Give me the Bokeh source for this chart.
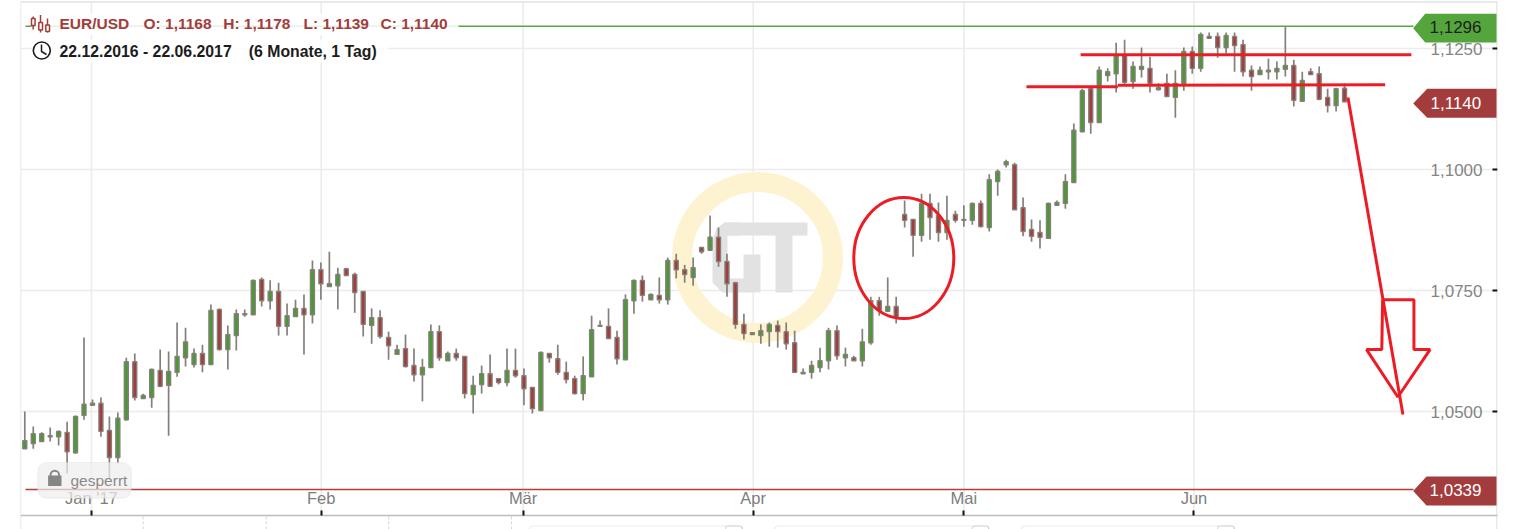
from bokeh.plotting import figure
from bokeh.models import Range1d, LinearAxis, FixedTicker, BoxAnnotation
from bokeh.core.properties import value
from bokeh.embed import file_html
from bokeh.resources import INLINE

# EUR/USD daily candles in 1/10000 units (10423 = 1,0423)
opens = [10423,10434,10438,10448,10448,10457,10415,10492,10513,10517,10461,10405,10483,10603,10527,10529,10585,10554,10581,10611,
10597,10620,10597,10711,10628,10657,10700,10700,10773,10729,10748,10676,10696,10713,10700,10793,10758,10760,10795,10783,
10748,10678,10694,10653,10618,10630,10595,10576,10591,10665,10605,10620,10614,10535,10556,10578,10568,10560,10585,10574,
10550,10502,10620,10609,10581,10568,10537,10572,10676,10676,10653,10607,10729,10771,10731,10740,10731,10812,10793,10777,
10839,10833,10860,10810,10766,10680,10659,10657,10665,10678,10665,10642,10578,10581,10591,10605,10667,10611,10611,10605,
10642,10729,10707,10717,10907,10897,10864,10930,10905,10870,10907,10895,10895,10930,10880,10975,11010,11010,10921,10876,
10870,10858,10926,10930,10973,11078,11167,11097,11194,11198,11236,11182,11207,11209,11165,11178,11149,11178,11244,11209,
11275,11275,11252,11275,11258,11205,11196,11202,11202,11207,11215,11141,11202,11198,11149,11132,11168]
closes = [10440,10454,10454,10450,10459,10417,10490,10515,10517,10459,10405,10486,10603,10529,10533,10587,10552,10583,10614,10644,
10620,10597,10709,10628,10659,10702,10702,10771,10729,10748,10676,10698,10713,10700,10793,10764,10764,10783,10781,10746,
10680,10694,10655,10636,10628,10593,10576,10591,10665,10611,10620,10611,10537,10554,10578,10552,10560,10585,10574,10547,
10506,10622,10611,10581,10566,10537,10574,10669,10678,10651,10609,10731,10771,10740,10742,10731,10812,10793,10783,10797,
10830,10860,10810,10764,10680,10661,10663,10667,10680,10665,10640,10581,10581,10595,10605,10667,10615,10618,10605,10644,
10729,10709,10717,10694,10895,10864,10930,10901,10870,10895,10895,10897,10930,10882,10979,10996,11016,10917,10872,10862,
10860,10930,10932,10975,11081,11163,11097,11205,11202,11236,11180,11213,11213,11178,11169,11151,11178,11244,11209,11279,
11271,11252,11277,11256,11202,11192,11205,11205,11209,11215,11143,11184,11196,11145,11132,11167,11140]
highs = [10500,10469,10457,10467,10461,10479,10492,10653,10525,10529,10490,10498,10611,10620,10537,10589,10628,10624,10684,10673,
10630,10638,10721,10713,10678,10711,10711,10773,10777,10771,10766,10723,10731,10742,10812,10808,10830,10797,10797,10787,
10748,10713,10709,10665,10638,10659,10630,10609,10680,10678,10624,10630,10614,10574,10595,10618,10568,10630,10630,10589,
10550,10624,10620,10638,10603,10574,10614,10698,10688,10713,10667,10742,10773,10781,10744,10777,10818,10826,10803,10818,
10839,10905,10880,10826,10768,10702,10663,10680,10684,10688,10684,10667,10589,10605,10632,10673,10678,10632,10615,10671,
10737,10737,10777,10737,10936,10897,10950,10950,10932,10946,10915,10926,10932,10936,10990,11000,11020,11014,10942,10897,
10895,10932,10936,10990,11095,11167,11169,11213,11209,11262,11268,11223,11252,11233,11178,11198,11205,11252,11254,11283,
11283,11283,11283,11283,11268,11215,11213,11229,11223,11296,11227,11202,11209,11213,11167,11169,11178]
lows = [10423,10423,10438,10438,10430,10372,10413,10483,10513,10448,10361,10393,10481,10523,10527,10508,10550,10450,10572,10593,
10591,10581,10597,10626,10587,10626,10696,10700,10717,10711,10657,10657,10696,10618,10682,10731,10758,10711,10781,10704,
10655,10640,10651,10607,10618,10591,10562,10521,10591,10605,10605,10605,10527,10496,10537,10552,10556,10552,10570,10513,
10496,10502,10601,10576,10558,10535,10523,10572,10676,10651,10597,10607,10702,10727,10731,10723,10721,10775,10766,10760,
10826,10833,10799,10737,10671,10649,10659,10640,10634,10632,10628,10581,10578,10568,10581,10587,10607,10593,10605,10593,
10638,10698,10707,10682,10880,10820,10851,10855,10851,10855,10890,10882,10886,10880,10872,10946,11004,10917,10862,10851,
10837,10858,10926,10919,10973,11078,11074,11097,11182,11159,11173,11167,11190,11159,11163,11151,11107,11163,11198,11202,
11271,11231,11240,11202,11192,11163,11196,11186,11186,11192,11130,11141,11196,11143,11118,11120,11139]

price_ticks = [1.05, 1.075, 1.10, 1.125]
price_labels = ["1,0500", "1,0750", "1,1000", "1,1250"]
month_ticks = [7.88, 35.04, 58.9, 86.1, 111.0, 138.2]
month_labels = ["Jan '17", "Feb", "Mär", "Apr", "Mai", "Jun"]
period_high, period_low, last_close = 1.1296, 1.0339, 1.1140

# hand-drawn analysis marks, in (candle index, price)
resist_x = [124.8, 163.9]; resist_y = [1.1237, 1.1237]
support1_x = [118.4, 129.2]; support1_y = [1.1171, 1.1171]
support2_x = [129.2, 160.8]; support2_y = [1.1174, 1.1175]
trend_x = [156.4, 162.9]; trend_y = [1.1149, 1.0494]
arrow_x = [160.5, 164.2, 164.2, 166.1, 162.3, 158.6, 160.4, 160.5]
arrow_y = [1.0731, 1.0731, 1.0628, 1.0628, 1.0530, 1.0628, 1.0628, 1.0731]

GREEN, RED = "#5aa545", "#a33c3c"
WICK = "#857f7a"
FONT = value("Liberation Sans")

def X(px): return (px - 24.3) / 8.46
def Y(py): return 1.13492 - 0.0002066 * py

p = figure(width=1519, height=529, output_backend="svg", toolbar_location=None,
           x_range=Range1d(X(20), X(1497)), y_range=Range1d(Y(529), Y(0)),
           x_axis_location=None, y_axis_location=None,
           min_border_left=20, min_border_right=22, min_border_top=0, min_border_bottom=0)
p.outline_line_color = None
p.grid.visible = False
p.background_fill_color = "white"

# grid and frame
GRID = "#ececec"
p.segment(month_ticks, [Y(2)] * 6, month_ticks, [Y(515)] * 6, line_color=GRID, line_width=1.6, level="underlay")
p.segment([X(20)] * 4, price_ticks, [X(1497)] * 4, price_ticks, line_color=GRID, line_width=1.6, level="underlay")
p.segment([X(20), X(1496.5), X(20)], [Y(1), Y(1), Y(1.5)], [X(20), X(1496.5), X(1497)], [Y(529), Y(529), Y(1.5)],
          line_color="#e2e2e2", line_width=1.5, level="underlay")
dash = [142.7, 265.7, 388.2, 511.0]
p.segment([X(d) for d in dash], [Y(516)] * 4, [X(d) for d in dash], [Y(529)] * 4,
          line_color="#d5d5d5", line_width=1, line_dash="3 2", level="underlay")

# watermark: ring + GT logo
p.scatter([X(757)], [Y(257)], marker="circle", size=151, fill_color=None, line_color="#fdf3d0", line_width=20)
gx = [712, 716, 724, 740, 740, 727, 727, 743, 743, 760, 760, 722, 712]
gy = [240, 228, 222, 222, 235, 235, 278, 278, 254, 254, 292, 292, 282]
p.patch([X(v) for v in gx], [Y(v) for v in gy], fill_color="#e2e2e2", line_color=None)
tx = [724, 807, 807, 792, 792, 775, 775, 724]
ty = [222, 222, 235, 235, 292, 292, 235, 235]
p.patch([X(v) for v in tx], [Y(v) for v in ty], fill_color="#e2e2e2", line_color=None)

# period high / low lines
p.line([X(25), X(1413)], [period_high] * 2, line_color=GREEN, line_width=1.6)
p.line([X(25), X(1413)], [period_low] * 2, line_color="#b83a3a", line_width=1.6)

# candles
n = len(opens)
idx = list(range(n))
o = [v / 10000 for v in opens]; c = [v / 10000 for v in closes]
h = [v / 10000 for v in highs]; l = [v / 10000 for v in lows]
p.segment(idx, h, idx, l, line_color=WICK, line_width=1.7)
colors = [RED if c[i] < o[i] else "#4a9a33" for i in idx]
p.vbar(idx, 0.47, [max(a, b) for a, b in zip(o, c)], [min(a, b) for a, b in zip(o, c)],
       fill_color=colors, line_color=WICK, line_width=1.4)

# axes
ov = dict(zip(price_ticks, price_labels))
yaxis = LinearAxis(fixed_location=X(1425), ticker=FixedTicker(ticks=price_ticks), major_label_overrides=ov,
                   axis_line_color=None, major_tick_line_color=None, minor_tick_line_color=None,
                   major_tick_in=0, major_tick_out=0, major_label_standoff=5,
                   major_label_text_color="#858585", major_label_text_font="Liberation Sans",
                   major_label_text_font_size="17px")
p.add_layout(yaxis, "right")
ytick = LinearAxis(fixed_location=X(1496.5), ticker=FixedTicker(ticks=price_ticks),
                   major_label_overrides={v: "" for v in price_ticks},
                   axis_line_color=None, major_tick_line_color="#111111", major_tick_line_width=2,
                   minor_tick_line_color=None, major_tick_in=5, major_tick_out=0)
p.add_layout(ytick, "right")
mv = dict(zip(month_ticks, month_labels))
xaxis = LinearAxis(fixed_location=Y(488.5), ticker=FixedTicker(ticks=month_ticks), major_label_overrides=mv,
                   axis_line_color=None, major_tick_line_color=None, minor_tick_line_color=None,
                   major_tick_in=0, major_tick_out=0, major_label_standoff=0,
                   major_label_text_color="#7d7d7d", major_label_text_font="Liberation Sans",
                   major_label_text_font_size="16.5px")
p.add_layout(xaxis, "below")
xtick = LinearAxis(fixed_location=Y(515.3), ticker=FixedTicker(ticks=month_ticks),
                   major_label_overrides={v: "" for v in month_ticks},
                   axis_line_color="#bdbdbd", axis_line_width=1.5,
                   major_tick_line_color="#111111", major_tick_line_width=2,
                   minor_tick_line_color=None, major_tick_in=5, major_tick_out=0)
p.add_layout(xtick, "below")

# range selector boxes at the bottom edge
for a, b in [(528.6, 742), (774, 988.5), (1020.7, 1234)]:
    p.add_layout(BoxAnnotation(left=X(a), right=X(b), top=Y(525.5), bottom=Y(545), fill_color="white",
                               line_color="#bdbdbd", line_width=1.2, border_radius=4))
    p.add_layout(BoxAnnotation(left=X(b - 17), right=X(b), top=Y(525.5), bottom=Y(545), fill_color=None,
                               line_color="#8c8c8c", line_width=1.2, border_radius=3))

# price tags
def tag(py_top, py_bot, py_tip, x_shoulder, color):
    xs = [X(1412.7), X(x_shoulder), X(1496), X(1496), X(x_shoulder)]
    ys = [Y(py_tip), Y(py_top), Y(py_top), Y(py_bot), Y(py_bot)]
    p.patch(xs, ys, fill_color=color, line_color=None, level="overlay")
tag(13.3, 42, 27.7, 1424.7, "#53a53c")
tag(88.3, 117.3, 103, 1426.7, RED)
tag(476, 505, 490.5, 1426, RED)
def vals(xs, ys, t, color, size, style="normal", level="overlay"):
    p.text(xs, ys, text=t, text_color=color, text_font=FONT, text_font_size=value(size),
           text_font_style=value(style), text_baseline="middle", text_align="left", level=level)
vals([X(1429)], [Y(26.5)], ["1,1296"], "#1e1e1e", "17px")
vals([X(1430)], [Y(102.5)], ["1,1140"], "#ffffff", "17px")
vals([X(1429)], [Y(489.5)], ["1,0339"], "#ffffff", "17px")

# header
p.quad(left=[X(31), X(31)], right=[X(458), X(387)], top=[Y(13), Y(39)], bottom=[Y(35), Y(62)],
       fill_color="white", fill_alpha=0.85, line_color=None, level="annotation")
hx = [59, 143, 222.7, 303, 380]
ht = ["EUR/USD", "O: 1,1168", "H: 1,1178", "L: 1,1139", "C: 1,1140"]
vals([X(v) for v in hx], [Y(23)] * 5, ht, RED, "15.5px", "bold")
vals([X(59), X(248.3)], [Y(50.5)] * 2, ["22.12.2016 - 22.06.2017", "(6 Monate, 1 Tag)"], "#1c1c1c", "15.8px", "bold")
# candlestick icon
p.segment([X(32.7), X(40), X(47)], [Y(16), Y(14.5), Y(18)], [X(32.7), X(40), X(47)], [Y(29), Y(32), Y(32)],
          line_color=RED, line_width=1.5, level="overlay")
p.quad(left=[X(31), X(38.3), X(45.3)], right=[X(34.6), X(42), X(49)], top=[Y(18), Y(22), Y(24.5)],
       bottom=[Y(25), Y(29.5), Y(31)], fill_color="white", line_color=RED, line_width=1.5, level="overlay")
# clock icon
p.scatter([X(41.3)], [Y(50)], marker="circle", size=17, fill_color="white", line_color="#1c1c1c",
          line_width=1.6, level="overlay")
p.line([X(41), X(41), X(46)], [Y(44), Y(51), Y(54)], line_color="#1c1c1c", line_width=1.5, level="overlay")

# red analysis marks
MARK = "#ed1c24"
p.line(resist_x, resist_y, line_color=MARK, line_width=3, level="annotation")
p.line(support1_x, support1_y, line_color=MARK, line_width=3, level="annotation")
p.line(support2_x, support2_y, line_color=MARK, line_width=3, level="annotation")
p.line(trend_x, trend_y, line_color=MARK, line_width=3, level="annotation")
p.line(arrow_x, arrow_y, line_color=MARK, line_width=3, level="annotation")
p.ellipse([103.9], [1.0817], width=100 / 8.46, height=121 * 0.0002066, fill_color=None,
          line_color=MARK, line_width=3, level="annotation")

# locked badge
p.add_layout(BoxAnnotation(left=X(37.3), right=X(130.7), top=Y(462), bottom=Y(497.7), fill_color="#eeeeee",
                           fill_alpha=0.72, line_color="#d8d8d8", line_width=1.2, border_radius=9))
p.quad(left=[X(47.6)], right=[X(61)], top=[Y(475)], bottom=[Y(485.5)], fill_color="#868686", line_color=None, level="overlay")
p.scatter([X(54.3)], [Y(474.5)], marker="circle", size=8.5, fill_color=None, line_color="#868686", line_width=2, level="overlay")
vals([X(70)], [Y(480)], ["gesperrt"], "#8a8a8a", "15.5px")

open("out.html", "w").write(file_html(p, INLINE))
